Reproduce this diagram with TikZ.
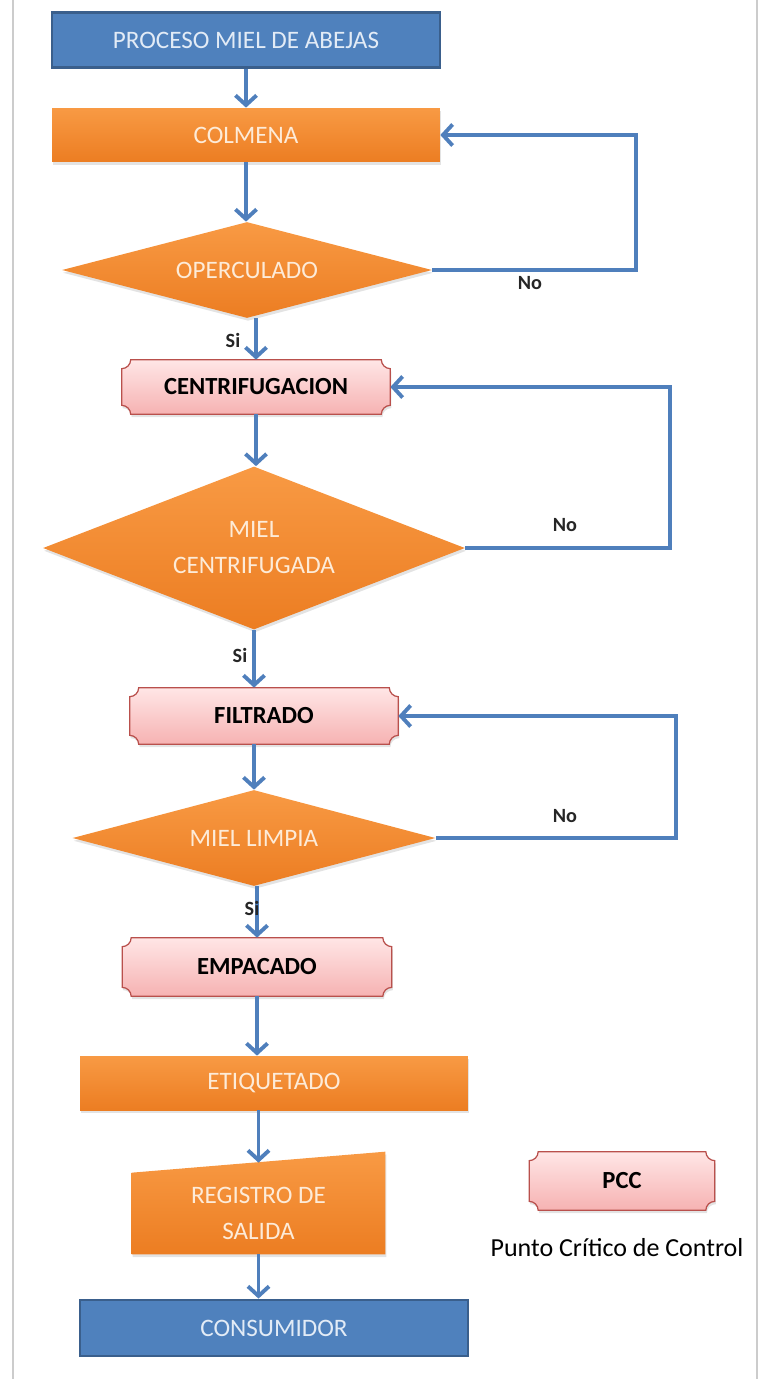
\documentclass[tikz,border=0pt]{standalone}
\usepackage{fontspec}
\setmainfont{Carlito}
\usetikzlibrary{shapes.geometric,arrows.meta,calc,shadows}

\definecolor{azul}{HTML}{4F81BD}
\definecolor{azulborde}{HTML}{3A5F8C}
\definecolor{azultexto}{HTML}{E2EBF6}
\definecolor{naranjaclaro}{HTML}{F89A44}
\definecolor{naranjaoscuro}{HTML}{EC7D22}
\definecolor{crema}{HTML}{FDEBD8}
\definecolor{rosaclaro}{HTML}{FFE6E6}
\definecolor{rosaoscuro}{HTML}{F6B2B2}
\definecolor{rosaborde}{HTML}{B9504C}
\definecolor{flecha}{HTML}{4F7FBC}

\pgfdeclarelayer{fondo}
\pgfsetlayers{fondo,main}

\tikzset{
  sombra/.style={drop shadow={opacity=0.22, shadow xshift=0.6pt, shadow yshift=-1.6pt}},
  inicio/.style={rectangle, fill=azul, draw=azulborde, line width=1.6pt, text=azultexto,
                 minimum width=7.76cm, minimum height=1.1cm, font=\fontsize{14.3}{16}\selectfont},
  proceso/.style={rectangle, top color=naranjaclaro, bottom color=naranjaoscuro, text=crema,
                  minimum width=7.76cm, minimum height=1.08cm, sombra, font=\fontsize{14.3}{16}\selectfont},
  decision/.style={diamond, aspect=3, inner sep=0pt, top color=naranjaclaro, bottom color=naranjaoscuro,
                   text=crema, align=center, sombra, font=\fontsize{14.3}{20.5}\selectfont},
  pcc/.style={rectangle, inner sep=0pt, text=black, font=\bfseries\fontsize{14}{16}\selectfont},
  flujo/.style={draw=flecha, line width=2.2pt, -{Straight Barb[length=5.5pt,width=12pt]}},
  etiqueta/.style={font=\bfseries\fontsize{11.5}{13}\selectfont, text=black!85},
}

% placa (PCC) with inward corners behind a node
\newcommand{\placa}[1]{%
  \begin{pgfonlayer}{fondo}
  \shade[top color=rosaclaro, bottom color=rosaoscuro, draw=rosaborde, line width=0.7pt, sombra]
    ($(#1.north west)+(0.18cm,0)$) -- ($(#1.north east)+(-0.18cm,0)$)
    arc[start angle=180, end angle=270, radius=0.18cm] -- ($(#1.south east)+(0,0.18cm)$)
    arc[start angle=90, end angle=180, radius=0.18cm]  -- ($(#1.south west)+(0.18cm,0)$)
    arc[start angle=0, end angle=90, radius=0.18cm]    -- ($(#1.north west)+(0,-0.18cm)$)
    arc[start angle=270, end angle=360, radius=0.18cm] -- cycle;
  \end{pgfonlayer}}

\begin{document}
\begin{tikzpicture}[x=0.02cm, y=-0.02cm]
  \useasboundingbox (0,0) rectangle (758,1379);
  \draw [black!20, line width=0.8pt] (13,0) -- (13,1379);                    % frame
  \draw [black!20, line width=0.8pt] (757,0) -- (757,1379);                  %

  \node [inicio]   (titulo)     at (246,40)   {PROCESO MIEL DE ABEJAS};
  \node [proceso]  (colmena)    at (246,135)  {COLMENA};
  \node [decision, minimum width=7.4cm, minimum height=1.92cm]
                   (operculado) at (247,270)  {OPERCULADO};
  \node [pcc, minimum width=5.36cm, minimum height=1.08cm]
                   (centrif)    at (256,387)  {CENTRIFUGACION};              % PCC
  \node [decision, minimum width=8.44cm, minimum height=3.26cm]
                   (mielcen)    at (254,548)  {MIEL\\CENTRIFUGADA};
  \node [pcc, minimum width=5.36cm, minimum height=1.12cm]
                   (filtrado)   at (264,716)  {FILTRADO};                    % PCC
  \node [decision, minimum width=7.26cm, minimum height=1.92cm]
                   (miellimpia) at (254,838)  {MIEL LIMPIA};
  \node [pcc, minimum width=5.38cm, minimum height=1.16cm]
                   (empacado)   at (257,967)  {EMPACADO};                    % PCC
  \node [proceso]  (etiquetado) at (274,1083) {ETIQUETADO};
  \node [rectangle, text=crema, align=center, minimum width=5.06cm, minimum height=1.62cm,
         font=\fontsize{14.3}{20.5}\selectfont]
                   (registro)   at (258.5,1213.5) {REGISTRO DE\\SALIDA};
  \node [inicio, minimum height=1.12cm]
                   (consumidor) at (274,1328) {CONSUMIDOR};

  \placa{centrif}
  \placa{filtrado}
  \placa{empacado}
  \begin{pgfonlayer}{fondo}                                                  % entrada manual
    \shade [top color=naranjaclaro, bottom color=naranjaoscuro, sombra]
      (registro.south west) -- (registro.south east)
      -- ($(registro.north east)+(0,0.42cm)$) -- (registro.north west) -- cycle;
  \end{pgfonlayer}
  \coordinate (regtop) at ($(registro.north)+(0,0.2cm)$);

  % main flow
  \draw [flujo] (titulo.south)     -- (titulo.south |- colmena.north);
  \draw [flujo] (colmena.south)    -- (colmena.south |- operculado.north);
  \draw [flujo] (centrif.north |- operculado.south) -- (centrif.north);
  \draw [flujo] (centrif.south)    -- (centrif.south |- mielcen.north);
  \draw [flujo] (mielcen.south)    -- (mielcen.south |- filtrado.north);
  \draw [flujo] (filtrado.south -| miellimpia.north) -- (miellimpia.north);
  \draw [flujo] (empacado.north |- miellimpia.south) -- (empacado.north);
  \draw [flujo] (empacado.south)   -- (empacado.south |- etiquetado.north);
  \draw [flujo] (etiquetado.south -| regtop) -- (regtop);
  \draw [flujo] (registro.south)   -- (registro.south |- consumidor.north);

  % loops "No"
  \draw [flujo] (operculado.east) -- ++(204,0) |- (colmena.east);
  \draw [flujo] (mielcen.east)    -- ++(205,0) |- (centrif.east);
  \draw [flujo] (miellimpia.east) -- ++(240,0) |- (filtrado.east);

  \node [etiqueta] (no1) at (530,283) {No};
  \node [etiqueta] (no2) at (565,525) {No};
  \node [etiqueta] (no3) at (565,816) {No};
  \node [etiqueta] (si1) at (233,340) {Si};
  \node [etiqueta] (si2) at (240,655) {Si};
  \node [etiqueta] (si3) at (252,908) {Si};

  % leyenda
  \node [pcc, minimum width=3.7cm, minimum height=1.16cm] (leyenda) at (622,1181) {PCC};
  \placa{leyenda}
  \node [font=\fontsize{14.8}{16}\selectfont] (leytexto) at (617,1248) {Punto Crítico de Control};
\end{tikzpicture}
\end{document}
